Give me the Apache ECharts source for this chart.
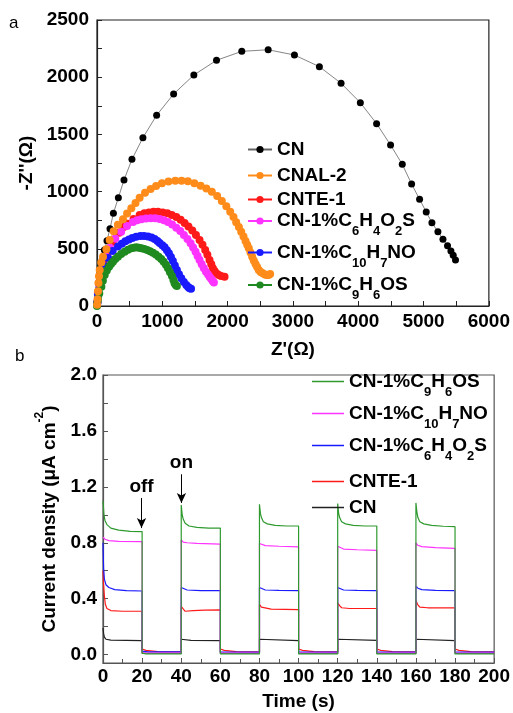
<!DOCTYPE html>
<html lang="en">
<head>
<meta charset="UTF-8">
<title>EIS and photocurrent</title>
<script src="https://cdn.jsdelivr.net/npm/echarts@6/dist/echarts.min.js"></script>
<style>html,body{margin:0;padding:0;background:#fff}</style>
</head>
<body>
<div id="chart" style="width:513px;height:713px;"></div>
<script>
// panel a: Nyquist plots, [Z', -Z'']
var zCN = [[4,15],[10,40],[18,90],[28,150],[38,210],[50,280],[67,344],[87,402],[113,490],[153,571],[199,676],[251,810],[327,947],[413,1101],[535,1282],[703,1471],[913,1667],[1173,1853],[1483,2019],[1830,2148],[2217,2226],[2621,2240],[3023,2194],[3405,2092],[3737,1947],[4032,1777],[4281,1594],[4495,1407],[4674,1239],[4817,1066],[4939,933],[5041,822],[5128,728],[5220,649],[5297,583],[5367,527],[5419,481],[5454,443],[5489,402]];
var zCNAL = [[2,10],[8,60],[15,130],[22,200],[30,260],[41,315],[65,380],[92,431],[144,496],[194,577],[255,653],[320,710],[398,758],[460,808],[526,854],[590,900],[653,947],[735,990],[821,1023],[905,1050],[994,1072],[1095,1088],[1199,1095],[1295,1095],[1391,1090],[1490,1073],[1586,1052],[1675,1028],[1758,999],[1840,962],[1911,918],[1980,872],[2040,824],[2090,778],[2131,732],[2172,690],[2208,650],[2243,608],[2274,568],[2300,535],[2324,504],[2350,468],[2376,431],[2400,398],[2427,367],[2452,340],[2477,315],[2505,298],[2538,286],[2570,276],[2599,271],[2628,272],[2651,280]];
var zCNTE = [[5,30],[15,120],[30,200],[60,290],[100,370],[160,460],[240,560],[340,640],[410,690],[470,720],[560,760],[653,795],[725,810],[795,818],[865,824],[933,824],[1005,818],[1076,810],[1145,796],[1214,778],[1280,755],[1341,725],[1400,694],[1459,660],[1515,620],[1570,577],[1615,535],[1657,490],[1690,447],[1723,402],[1750,365],[1774,330],[1800,305],[1830,285],[1865,270],[1900,262],[1953,256]];
var zC6 = [[5,30],[15,110],[30,190],[55,270],[90,350],[140,430],[200,510],[280,590],[370,650],[460,700],[552,735],[615,750],[679,758],[750,765],[821,767],[890,766],[959,761],[1025,750],[1086,735],[1150,712],[1214,685],[1275,655],[1330,621],[1385,585],[1433,548],[1472,512],[1509,475],[1540,438],[1570,402],[1603,365],[1636,330],[1668,300],[1700,275],[1725,253],[1750,235],[1770,218],[1790,205]];
var zC10 = [[5,30],[15,100],[35,190],[65,270],[110,350],[170,420],[240,480],[321,520],[380,545],[434,565],[490,582],[541,595],[600,606],[664,612],[720,612],[780,608],[835,598],[882,585],[925,568],[959,550],[1000,532],[1035,513],[1070,488],[1101,461],[1132,428],[1162,393],[1192,355],[1223,315],[1255,278],[1291,242],[1330,210],[1367,184],[1395,165],[1417,155],[1440,150]];
var zC9 = [[0,0],[6,30],[15,60],[35,110],[67,169],[90,220],[118,271],[150,310],[185,344],[215,367],[245,387],[280,410],[321,431],[370,455],[424,475],[475,492],[526,504],[565,510],[602,513],[640,510],[679,504],[724,498],[768,490],[812,479],[856,466],[900,450],[943,431],[983,410],[1020,387],[1055,360],[1086,330],[1117,296],[1147,262],[1170,228],[1188,198],[1205,184],[1223,175]];

// panel b: photocurrent, [time s, current µA cm-2]
var jCN = [[0,0.19],[0.3,0.15],[0.7,0.125],[1.5,0.11],[4,0.103],[20,0.10],[20,0.01],[40,0.008],[40,0.11],[41,0.105],[45,0.102],[60,0.10],[60,0.01],[80,0.008],[80,0.11],[81,0.104],[100,0.10],[100,0.01],[120,0.008],[120,0.11],[121,0.105],[140,0.102],[140,0.01],[160,0.008],[160,0.11],[161,0.104],[180,0.10],[180,0.01],[200,0.008]];
var jCNTE = [[0,0.60],[0.3,0.50],[0.7,0.42],[1.2,0.36],[2,0.33],[4,0.315],[10,0.31],[20,0.31],[20,0.04],[22,0.03],[28,0.022],[40,0.02],[40,0.345],[40.8,0.33],[42,0.31],[46,0.315],[52,0.318],[60,0.32],[60,0.04],[62,0.03],[68,0.022],[80,0.02],[80,0.36],[81,0.34],[82,0.33],[86,0.325],[100,0.322],[100,0.04],[102,0.03],[108,0.022],[120,0.02],[120,0.37],[121,0.35],[122,0.335],[126,0.33],[140,0.33],[140,0.04],[142,0.03],[148,0.022],[160,0.02],[160,0.39],[160.8,0.36],[162,0.34],[166,0.335],[180,0.335],[180,0.04],[182,0.03],[188,0.022],[200,0.02]];
var jC6 = [[0,0.80],[0.3,0.62],[0.7,0.54],[1.5,0.50],[3,0.48],[6,0.465],[12,0.458],[20,0.455],[20,0.025],[23,0.02],[40,0.02],[40,0.48],[41,0.47],[43,0.462],[50,0.458],[60,0.457],[60,0.02],[80,0.018],[80,0.48],[81,0.468],[83,0.462],[90,0.46],[100,0.458],[100,0.02],[120,0.018],[120,0.48],[121,0.47],[123,0.462],[130,0.46],[140,0.458],[140,0.02],[160,0.018],[160,0.49],[161,0.475],[163,0.465],[170,0.46],[180,0.458],[180,0.02],[200,0.018]];
var jC10 = [[0,0.84],[1,0.825],[3,0.815],[8,0.81],[20,0.808],[20,0.015],[22,0.01],[40,0.01],[40,0.82],[41,0.805],[43,0.80],[48,0.795],[60,0.79],[60,0.012],[80,0.01],[80,0.795],[81,0.785],[83,0.78],[90,0.775],[100,0.77],[100,0.012],[120,0.01],[120,0.775],[121,0.762],[123,0.755],[130,0.75],[140,0.745],[140,0.012],[160,0.01],[160,0.80],[161,0.782],[163,0.772],[170,0.765],[180,0.76],[180,0.012],[200,0.01]];
var jC9 = [[0,1.10],[0.5,1.0],[1,0.96],[2,0.93],[4,0.905],[8,0.89],[14,0.882],[20,0.88],[20,0.01],[22,0.005],[40,0.005],[40,1.07],[40.5,1.0],[41,0.97],[42,0.94],[44,0.92],[48,0.91],[54,0.905],[60,0.905],[60,0.005],[80,0.005],[80,1.075],[80.5,1.01],[81,0.98],[82,0.95],[84,0.935],[88,0.925],[94,0.92],[100,0.92],[100,0.005],[120,0.005],[120,1.08],[120.5,1.01],[121,0.98],[122,0.95],[124,0.935],[128,0.925],[134,0.92],[140,0.92],[140,0.005],[160,0.005],[160,1.085],[160.5,1.02],[161,0.98],[162,0.95],[164,0.935],[168,0.925],[174,0.918],[180,0.915],[180,0.005],[200,0.005]];

var bYLabels = [0, 0.4, 0.8, 1.2, 1.6, 2.0];
var bYTicks = [0, 0.2, 0.4, 0.6, 0.8, 1.0, 1.2, 1.4, 1.6, 1.8, 2.0];

var FONT = 'Liberation Sans, Arial, sans-serif';
var rich = {
    n: { fontSize: 19, fontWeight: 'bold', fontFamily: FONT, color: '#000', lineHeight: 20 },
    s: { fontSize: 13, fontWeight: 'bold', fontFamily: FONT, color: '#000', lineHeight: 13, verticalAlign: 'top', padding: [14, 0, 0, 0] }
};
function chem(name) {
    return '{n|' + name.replace(/([A-Z])(\d+)/g, '$1}{s|$2}{n|') + '}';
}

function legendItem(name, left, top, panel) {
    var lg = {
        data: [name], left: left, top: top, padding: 0,
        formatter: chem, textStyle: { rich: rich },
        selectedMode: false
    };
    if (panel === 'a') {
        lg.itemWidth = 24; lg.itemHeight = 9;
    } else {
        lg.itemWidth = 32; lg.itemHeight = 1.5; lg.icon = 'rect';
    }
    return lg;
}

var tickLabel = { fontSize: 19, fontWeight: 'bold', fontFamily: FONT, color: '#000' };
function plain(v) { return String(v); }

function nyq(name, data, color, size, lineColor) {
    return {
        name: name, type: 'line', xAxisIndex: 0, yAxisIndex: 0, data: data,
        symbol: 'circle', symbolSize: size, showSymbol: true,
        itemStyle: { color: color },
        lineStyle: { color: lineColor || color, width: 0.8 },
        animation: false
    };
}
function trace(name, data, color) {
    return {
        name: name, type: 'line', xAxisIndex: 1, yAxisIndex: 1, data: data,
        symbol: 'none', itemStyle: { color: color },
        lineStyle: { color: color, width: 1.2 },
        animation: false
    };
}

var chart = echarts.init(document.getElementById('chart'));
var green9 = trace('CN-1%C9H6OS ', jC9, '#2e9a2e');
green9.markLine = {
    silent: true, symbol: ['none', 'arrow'], symbolSize: [7, 10],
    lineStyle: { color: '#000', width: 1, type: 'solid' },
    label: { show: true, position: 'start', distance: 2, formatter: '{b}', fontSize: 19, fontWeight: 'bold', fontFamily: FONT, color: '#000' },
    data: [
        [{ coord: [19.7, 1.12], name: 'off' }, { coord: [19.7, 0.905] }],
        [{ coord: [40.1, 1.29], name: 'on' }, { coord: [40.1, 1.085] }]
    ]
};

chart.setOption({
    animation: false,
    title: [
        { text: 'a', left: 9, top: 15, padding: 0, textStyle: { fontSize: 17, fontWeight: 'normal', fontFamily: FONT, color: '#000' } },
        { text: 'b', left: 15, top: 348, padding: 0, textStyle: { fontSize: 17, fontWeight: 'normal', fontFamily: FONT, color: '#000' } }
    ],
    legend: [
        legendItem('CN', 247, 140, 'a'),
        legendItem('CNAL-2', 247, 166, 'a'),
        legendItem('CNTE-1', 247, 190, 'a'),
        legendItem('CN-1%C6H4O2S', 247, 211, 'a'),
        legendItem('CN-1%C10H7NO', 247, 242.5, 'a'),
        legendItem('CN-1%C9H6OS', 247, 275, 'a'),
        legendItem('CN-1%C9H6OS ', 312, 371.5, 'b'),
        legendItem('CN-1%C10H7NO ', 312, 403.5, 'b'),
        legendItem('CN-1%C6H4O2S ', 312, 435.5, 'b'),
        legendItem('CNTE-1 ', 312, 472, 'b'),
        legendItem('CN ', 312, 498, 'b')
    ],
    grid: [
        { left: 97, top: 20, width: 393, height: 286, show: true, borderColor: '#222', borderWidth: 1.2, backgroundColor: 'transparent' },
        { left: 103, top: 375, width: 392, height: 288, show: true, borderColor: '#555', borderWidth: 1.2, backgroundColor: 'transparent' }
    ],
    xAxis: [
        {
            gridIndex: 0, type: 'value', min: 0, max: 6000, interval: 1000,
            name: "Z'(Ω)", nameLocation: 'middle', nameGap: 34,
            nameTextStyle: { fontSize: 19, fontWeight: 'bold', fontFamily: FONT, color: '#000' },
            axisLine: { onZero: false, lineStyle: { color: '#222', width: 1.2 } },
            axisTick: { inside: true, length: 5, lineStyle: { color: '#222' } },
            minorTick: { show: true, splitNumber: 2, length: 5, lineStyle: { color: '#222' } },
            axisLabel: Object.assign({ margin: 6, formatter: plain }, tickLabel),
            splitLine: { show: false }
        },
        {
            gridIndex: 1, type: 'value', min: 0, max: 200, interval: 20,
            name: 'Time (s)', nameLocation: 'middle', nameGap: 29,
            nameTextStyle: { fontSize: 19, fontWeight: 'bold', fontFamily: FONT, color: '#000' },
            axisLine: { onZero: false, lineStyle: { color: '#555', width: 1.2 } },
            axisTick: { inside: true, length: 5, lineStyle: { color: '#555' } },
            minorTick: { show: true, splitNumber: 2, length: 4, lineStyle: { color: '#555' } },
            axisLabel: Object.assign({ margin: 4, formatter: plain }, tickLabel),
            splitLine: { show: false }
        }
    ],
    yAxis: [
        {
            gridIndex: 0, type: 'value', min: 0, max: 2500, interval: 500,
            name: "-Z''(Ω)", nameLocation: 'middle', nameGap: 55,
            nameTextStyle: { fontSize: 19, fontWeight: 'bold', fontFamily: FONT, color: '#000' },
            axisLine: { onZero: false, lineStyle: { color: '#222', width: 1.2 } },
            axisTick: { inside: true, length: 5, lineStyle: { color: '#222' } },
            minorTick: { show: true, splitNumber: 2, length: 5, lineStyle: { color: '#222' } },
            axisLabel: Object.assign({ margin: 8, formatter: plain }, tickLabel),
            splitLine: { show: false }
        },
        {
            gridIndex: 1, type: 'value', min: -0.06, max: 2.0,
            name: '{n|Current density (μA cm}{p|-2}{n|)}', nameLocation: 'middle', nameGap: 40,
            nameTextStyle: {
                rich: {
                    n: { fontSize: 19, fontWeight: 'bold', fontFamily: FONT, color: '#000', lineHeight: 26, verticalAlign: 'bottom' },
                    p: { fontSize: 12, fontWeight: 'bold', fontFamily: FONT, color: '#000', lineHeight: 12, verticalAlign: 'top' }
                }
            },
            axisLine: { onZero: false, lineStyle: { color: '#555', width: 1.2 } },
            axisTick: { inside: true, length: 5, lineStyle: { color: '#555' }, customValues: bYTicks },
            axisLabel: Object.assign({ margin: 6, customValues: bYLabels, formatter: function (v) { return v.toFixed(1); } }, tickLabel),
            splitLine: { show: false }
        }
    ],
    series: [
        nyq('CN', zCN, '#000', 7, '#666'),
        nyq('CNTE-1', zCNTE, '#ff1a1a', 8),
        nyq('CN-1%C6H4O2S', zC6, '#ff33ff', 8),
        nyq('CN-1%C10H7NO', zC10, '#1a1aff', 8),
        nyq('CN-1%C9H6OS', zC9, '#1f8a1f', 8),
        nyq('CNAL-2', zCNAL, '#ff8c1a', 8),
        trace('CN ', jCN, '#222'),
        trace('CNTE-1 ', jCNTE, '#ff1a1a'),
        trace('CN-1%C6H4O2S ', jC6, '#1a1aff'),
        trace('CN-1%C10H7NO ', jC10, '#ff33ff'),
        green9
    ]
});
</script>
</body>
</html>
